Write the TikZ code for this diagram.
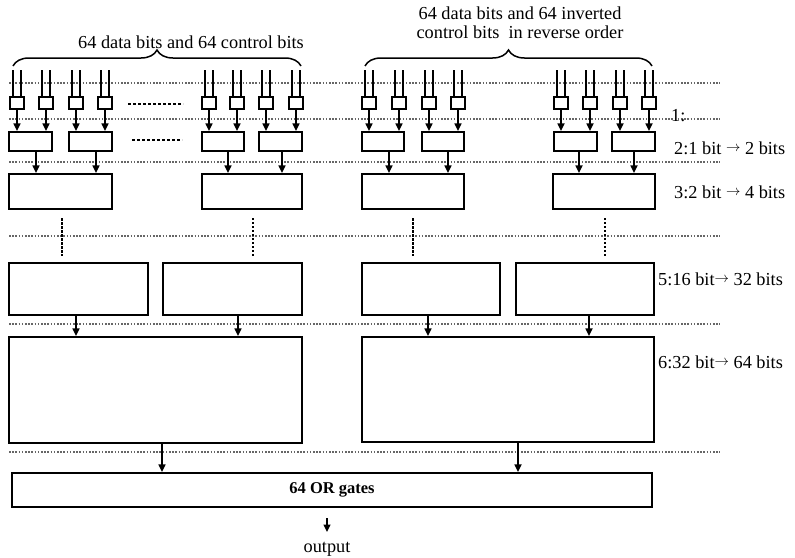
\documentclass[tikz,border=0pt]{standalone}
\usepackage{fontspec}
\setmainfont{Liberation Serif}
\usetikzlibrary{arrows.meta,decorations.pathreplacing,calc}
\newcommand{\myarr}{\raisebox{2.5pt}{\fontsize{14}{14}\selectfont$\rightarrow$}}
\newcommand{\bx}[5]{\node[blk, minimum width={(#4)-(#2)}, minimum height={(#5)-(#3)}] (#1) at ({((#2)+(#4))/2},{((#3)+(#5))/2}) {};}
\tikzset{
  blk/.style={draw, line width=2.2pt, inner sep=0pt, rectangle},
  arr/.style={line width=1.6pt, -{Triangle[length=7.5pt,width=7pt]}},
  sepline/.style={draw=black!60, line width=1.6pt, dash pattern=on 1.6pt off 1.6pt},
  gapline/.style={draw=black, line width=2pt, dash pattern=on 3pt off 2pt},
  vthick/.style={draw=black, line width=2.8pt, dash pattern=on 2.5pt off 1.5pt},
  vthin/.style={draw=black, line width=1.7pt, dash pattern=on 2pt off 2pt},
  inwire/.style={line width=2pt},
  lbl/.style={inner sep=0pt},
  bracest/.style={decorate, decoration={brace, amplitude=16pt}, line width=1.5pt}
}
\begin{document}
\begin{tikzpicture}[x=1pt,y=-1pt, font=\fontsize{18.3}{19}\selectfont]
\useasboundingbox (0,0) rectangle (795,557);
% separator lines
\foreach \yy in {83,119,162,236,324,452} {
  \draw[sepline] (9,\yy) -- (720,\yy);
}
% top labels and braces
\node[lbl] (tl) at (191,42) {64 data bits and 64 control bits};
\node[lbl, align=center] (tr) at (520,22.5) {64 data bits and 64 inverted\\control bits\ \ in reverse order};
\draw[bracest] (13,66) -- (301,66);
\draw[bracest] (365,66) -- (652,66);
% row 2 boxes
\bx{b1}{9}{132}{52}{151}
\bx{b2}{69}{132}{112}{151}
\bx{b3}{202}{132}{244}{151}
\bx{b4}{259}{132}{302}{151}
\bx{b5}{362}{132}{404}{151}
\bx{b6}{422}{132}{464}{151}
\bx{b7}{554}{132}{597}{151}
\bx{b8}{612}{132}{655}{151}
% small input boxes
\foreach \c [count=\i] in {17,46,76,105,209,237,266,296,369,399,429,458,561,590,620,649} {
  \node[blk, minimum width=14, minimum height=12] (s\i) at (\c,103) {};
  \draw[inwire] ([xshift=-4pt]s\i.north) -- ++(0,-26);
  \draw[inwire] ([xshift=4pt]s\i.north) -- ++(0,-26);
  \pgfmathtruncatemacro{\j}{(\i+1)/2}
  \draw[arr] (s\i.south) -- (s\i.south |- b\j.north);
}
\draw[gapline] (128,104) -- (183,104);
\draw[gapline] (132,140) -- (182,140);
% row 3 boxes
\bx{c1}{9}{174}{112}{209}
\bx{c2}{202}{174}{302}{209}
\bx{c3}{362}{174}{464}{209}
\bx{c4}{553}{174}{655}{209}
\foreach \b/\c/\sh in {b1/c1/5.5,b2/c1/5.5,b3/c2/5,b4/c2/1.5,b5/c3/6,b6/c3/5,b7/c4/3.5,b8/c4/0.5} {
  \draw[arr] ([xshift=\sh pt]\b.south) -- ([xshift=\sh pt]\b.south |- \c.north);
}
% row 5 boxes
\bx{e1}{9}{263}{148}{315}
\bx{e2}{163}{263}{302}{315}
\bx{e3}{362}{263}{500}{315}
\bx{e4}{516}{263}{654}{315}
\draw[vthick, shorten <=8pt, shorten >=6pt] ([xshift=1.5pt]c1.south) -- ([xshift=1.5pt]c1.south |- e1.north);
\draw[vthin, shorten <=8pt, shorten >=6pt] ([xshift=1pt]c2.south) -- ([xshift=1pt]c2.south |- e2.north);
\draw[vthick, shorten <=8pt, shorten >=6pt] (c3.south) -- (c3.south |- e3.north);
\draw[vthin, shorten <=8pt, shorten >=6pt] ([xshift=1pt]c4.south) -- ([xshift=1pt]c4.south |- e4.north);
% row 6 boxes
\bx{f1}{9}{337}{302}{443}
\bx{f2}{362}{337}{654}{442}
\foreach \e/\f/\sh in {e1/f1/-2.5,e2/f1/5.5,e3/f2/-3,e4/f2/4} {
  \draw[arr] ([xshift=\sh pt]\e.south) -- ([xshift=\sh pt]\e.south |- \f.north);
}
% OR gates
\node[blk, minimum width=640, minimum height=34, font=\bfseries\fontsize{16.5}{16.5}\selectfont] (g) at (332,490) {64 OR gates};
\foreach \f/\sh in {f1/6.5,f2/10} {
  \draw[arr] ([xshift=\sh pt]\f.south) -- ([xshift=\sh pt]\f.south |- g.north);
}
\node[lbl, anchor=base] (out) at (327,552) {output};
\coordinate (otip) at (327,532);
\draw[arr, shorten <=10pt] ([xshift=-5pt]g.south) -- (otip);
% stage labels
\node[lbl, anchor=base west] (l1) at (671,121) {1:};
\node[lbl, anchor=west] (l2) at (674,148) {2:1 bit \myarr\ 2 bits};
\node[lbl, anchor=west] (l3) at (674,192) {3:2 bit \myarr\ 4 bits};
\node[lbl, anchor=west] (l5) at (658,279) {5:16 bit\myarr\ 32 bits};
\node[lbl, anchor=west] (l6) at (658,362) {6:32 bit\myarr\ 64 bits};
\end{tikzpicture}
\end{document}
